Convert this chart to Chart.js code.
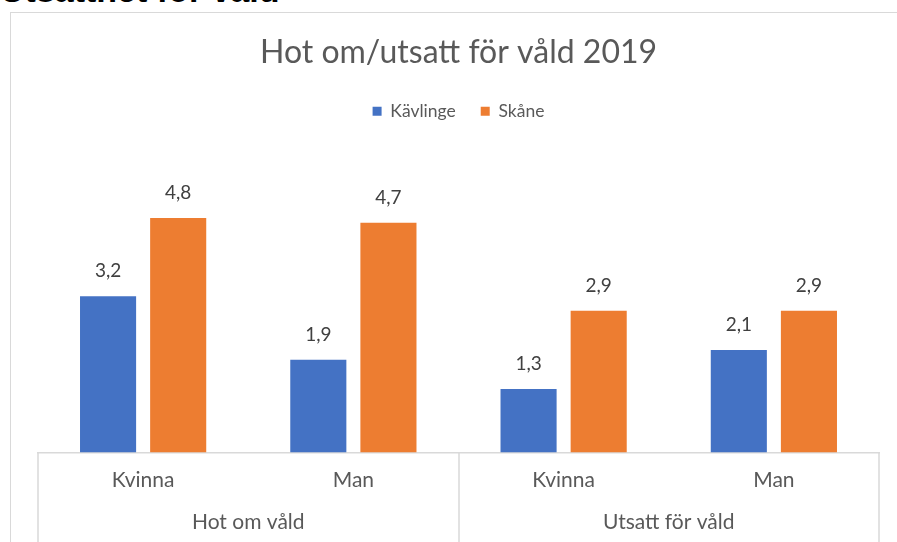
<!doctype html>
<html>
<head>
<title>Hot om/utsatt för våld 2019</title>
<script src="https://cdn.jsdelivr.net/npm/chart.js@4.4.1/dist/chart.umd.min.js"></script>
<style>
body { margin: 0; background: #fff; overflow: hidden; }
#heading {
	position: absolute; left: 0; top: -30px;
	font: bold 34px "Liberation Sans", Arial, sans-serif; color: #000;
	line-height: 40px; white-space: nowrap;
}
#frame {
	position: absolute; left: 10px; top: 12px; width: 1000px; height: 1000px;
	border: 1px solid #d9d9d9;
}
#wrap { position: absolute; left: 0; top: 0; width: 897px; height: 542px; }
</style>
</head>
<body>
	<div id="heading">Utsatthet för våld</div>
	<div id="frame"></div>
	<div id="wrap"><canvas id="canvas" width="897" height="542"></canvas></div>

	<script>
		var categories = ['Kvinna', 'Man', 'Kvinna', 'Man'];
		var groups = ['Hot om våld', 'Utsatt för våld'];
		var kavlinge = [3.2, 1.9, 1.3, 2.1];
		var skane = [4.8, 4.7, 2.9, 2.9];

		var grey = '#595959';
		var fontName = 'Lato, "Open Sans", sans-serif';

		// value labels above each bar, Swedish decimal comma
		var barLabels = {
			id: 'barLabels',
			afterDatasetsDraw: function(chart) {
				var ctx = chart.ctx;
				ctx.save();
				ctx.font = '19px ' + fontName;
				ctx.fillStyle = '#404040';
				ctx.textAlign = 'center';
				ctx.textBaseline = 'alphabetic';
				chart.data.datasets.forEach(function(ds, i) {
					chart.getDatasetMeta(i).data.forEach(function(bar, j) {
						ctx.fillText(ds.data[j].toFixed(1).replace('.', ','), bar.x, bar.y - 19);
					});
				});
				ctx.restore();
			}
		};

		// group separators under the category axis
		var groupLines = {
			id: 'groupLines',
			afterDraw: function(chart) {
				var ctx = chart.ctx, x = chart.scales.x, area = chart.chartArea;
				var half = (x.getPixelForValue(1) + x.getPixelForValue(2)) / 2;
				ctx.save();
				ctx.strokeStyle = '#d9d9d9';
				ctx.lineWidth = 1.5;
				[area.left, half, area.right].forEach(function(px) {
					ctx.beginPath();
					ctx.moveTo(Math.round(px), area.bottom);
					ctx.lineTo(Math.round(px), chart.height);
					ctx.stroke();
				});
				ctx.restore();
			}
		};

		var ctx = document.getElementById('canvas').getContext('2d');
		window.myBar = new Chart(ctx, {
			type: 'bar',
			data: {
				labels: categories,
				datasets: [{
					label: 'Kävlinge',
					backgroundColor: '#4472C4',
					data: kavlinge
				}, {
					label: 'Skåne',
					backgroundColor: '#ED7D31',
					data: skane
				}]
			},
			plugins: [barLabels, groupLines],
			options: {
				responsive: false,
				animation: false,
				events: [],
				categoryPercentage: 0.667,
				barPercentage: 0.8,
				layout: { padding: { left: 38, right: 18, top: 0, bottom: 6 } },
				plugins: {
					title: {
						display: true,
						text: 'Hot om/utsatt för våld 2019',
						color: grey,
						font: { family: fontName, size: 32, weight: 'normal' },
						padding: { top: 33, bottom: 6 }
					},
					legend: {
						position: 'top',
						labels: {
							color: grey,
							font: { family: fontName, size: 17.5 },
							boxWidth: 9,
							boxHeight: 9,
							padding: 25
						}
					},
					tooltip: { enabled: false }
				},
				scales: {
					y: { display: false, min: 0, max: 6.6 },
					x: {
						grid: { display: true, drawOnChartArea: false, drawTicks: false },
						border: { display: true, color: '#d9d9d9', width: 1.5 },
						ticks: { color: grey, font: { family: fontName, size: 21 }, padding: 15 }
					},
					x2: {
						type: 'category',
						labels: groups,
						position: 'bottom',
						grid: { display: false, drawTicks: false },
						border: { display: false },
						ticks: { color: grey, font: { family: fontName, size: 21 }, padding: 1.5 }
					}
				}
			}
		});
	</script>
</body>
</html>
